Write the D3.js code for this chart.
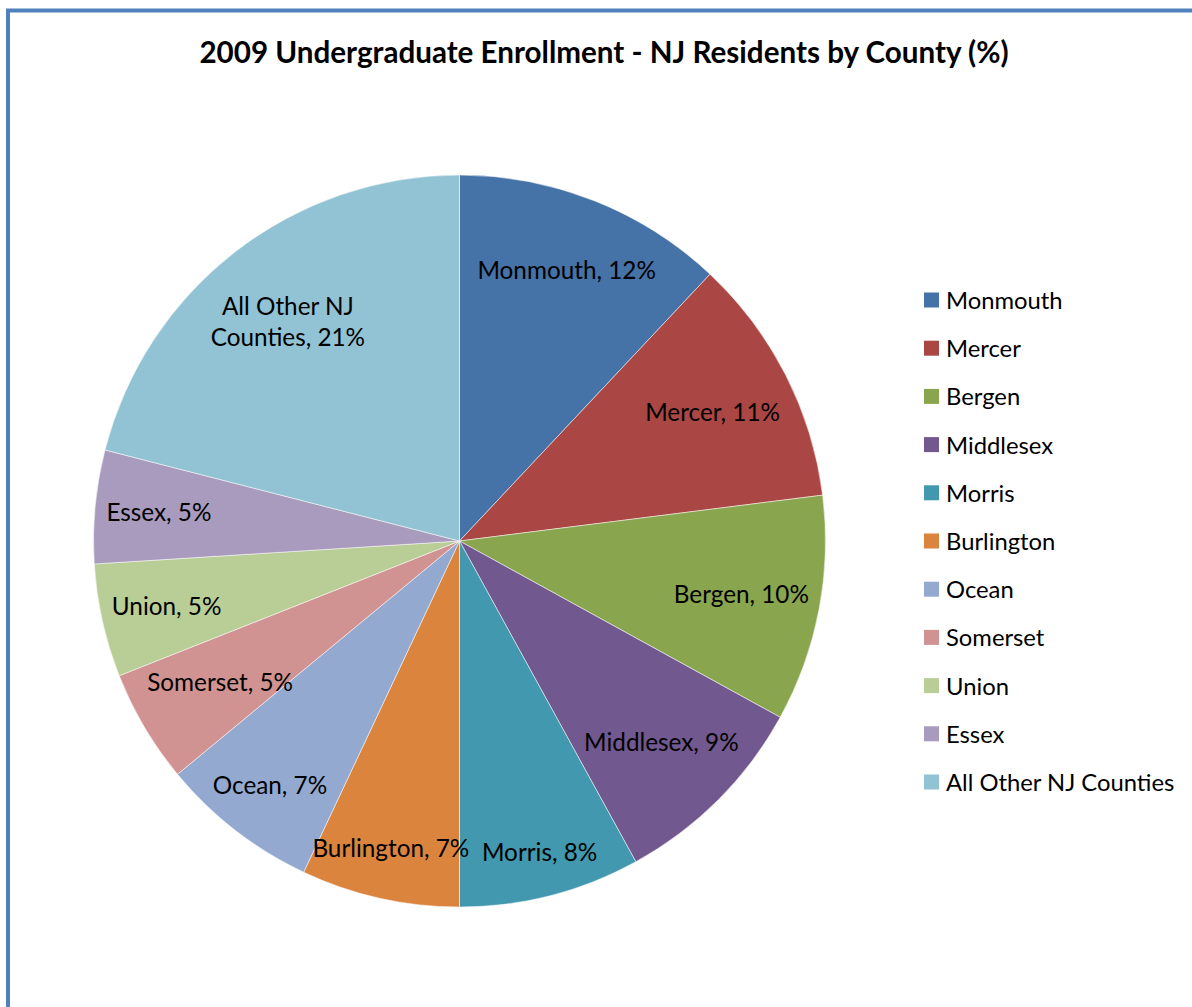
<!DOCTYPE html>
<html>
<head>
<meta charset="utf-8">
<script src="https://cdn.jsdelivr.net/npm/d3@7"></script>
<style>
  html, body { margin: 0; padding: 0; background: #fff; }
  svg { display: block; }
  text { font-family: Lato, "Open Sans", sans-serif; fill: #000; }
</style>
</head>
<body>
<script>
// Enrollment share by county (percent), in slice order
const counties = ["Monmouth", "Mercer", "Bergen", "Middlesex", "Morris", "Burlington",
                  "Ocean", "Somerset", "Union", "Essex", "All Other NJ Counties"];
const shares = [12, 11, 10, 9, 8, 7, 7, 5, 5, 5, 21];
const sliceColors = ["#4572A7", "#AA4643", "#89A54E", "#71588F", "#4198AF", "#DB843D",
                     "#93A9CF", "#D19392", "#B9CD96", "#A99BBD", "#92C3D4"];
const titleText = "2009 Undergraduate Enrollment - NJ Residents by County (%)";

// layout: how far out each data label sits, as a fraction of the radius
const labelRadiusFrac = [0.795, 0.776, 0.784, 0.78, 0.88, 0.86, 0.845, 0.76, 0.82, 0.825, 0.765];

const W = 1192, H = 1007;
const cx = 459.5, cy = 541, R = 366;

const svg = d3.select("body").append("svg").attr("width", W).attr("height", H);

// chart frame (runs past the right and bottom edges)
svg.append("rect")
  .attr("x", 8).attr("y", 10.5)
  .attr("width", 1400).attr("height", 1200)
  .attr("fill", "none").attr("stroke", "#4F81BD").attr("stroke-width", 4);

svg.append("text")
  .attr("x", 604).attr("y", 51)
  .attr("text-anchor", "middle").attr("dominant-baseline", "central")
  .attr("font-weight", "bold").attr("font-size", 29.6)
  .text(titleText);

const data = counties.map((c, i) => ({ name: c, value: shares[i], color: sliceColors[i] }));
const pie = d3.pie().sort(null).value(d => d.value);
const arcs = pie(data);
const arc = d3.arc().innerRadius(0).outerRadius(R);

const g = svg.append("g").attr("transform", `translate(${cx},${cy})`);

g.selectAll("path.slice").data(arcs).join("path")
  .attr("class", "slice")
  .attr("d", arc)
  .attr("fill", d => d.data.color)
  .attr("stroke", "rgba(255,255,255,0.5)")
  .attr("stroke-width", 1);

// data labels: "Name, NN%"; the long one wraps onto two lines
const labels = g.selectAll("text.lbl").data(arcs).join("text")
  .attr("class", "lbl")
  .attr("font-size", 24.3)
  .attr("text-anchor", "middle")
  .attr("transform", (d, i) => {
    const r = R * labelRadiusFrac[i];
    return `translate(${d3.arc().innerRadius(r).outerRadius(r).centroid(d)})`;
  });

labels.each(function(d) {
  const t = d3.select(this);
  const full = `${d.data.name}, ${d.data.value}%`;
  if (d.data.name.length > 15) {
    const words = d.data.name.split(" ");
    const line1 = words.slice(0, 3).join(" ");
    const line2 = words.slice(3).join(" ") + `, ${d.data.value}%`;
    t.append("tspan").attr("x", 0).attr("dy", "-0.2em").text(line1);
    t.append("tspan").attr("x", 0).attr("dy", "1.3em").text(line2);
  } else {
    t.append("tspan").attr("x", 0).attr("dy", "0.35em").text(full);
  }
});

// legend
const legend = svg.append("g").attr("transform", "translate(924,300)");
const step = 48.2;
const items = legend.selectAll("g").data(data).join("g")
  .attr("transform", (d, i) => `translate(0,${i * step})`);
items.append("rect")
  .attr("x", 0).attr("y", -7.5).attr("width", 15).attr("height", 15)
  .attr("fill", d => d.color);
items.append("text")
  .attr("x", 22).attr("y", 0)
  .attr("dominant-baseline", "central")
  .attr("font-size", 23.8)
  .text(d => d.name);
</script>
</body>
</html>
